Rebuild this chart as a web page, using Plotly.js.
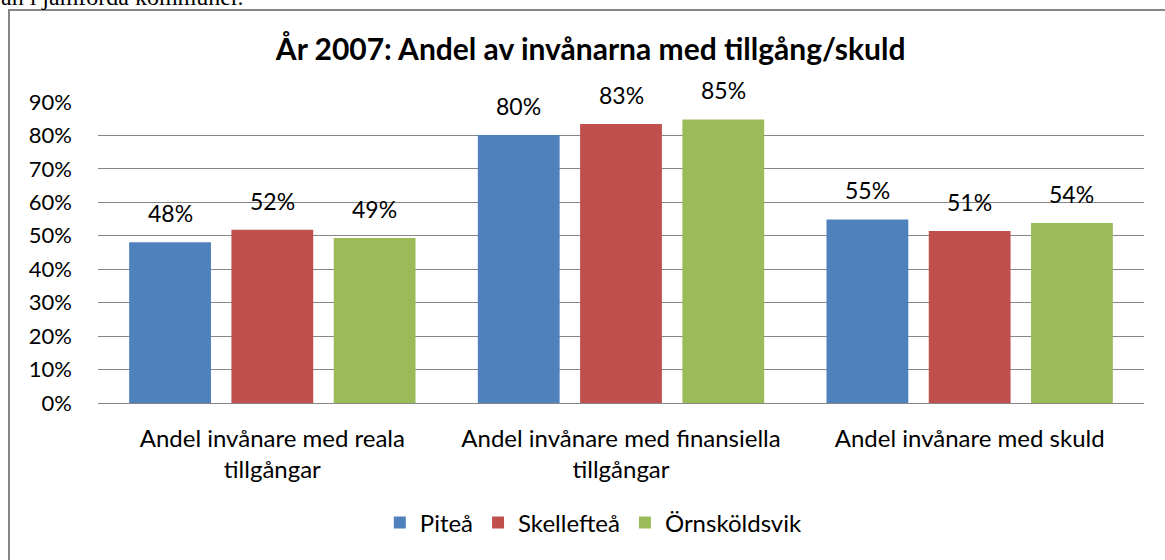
<!DOCTYPE html>
<html>
<head>
<meta charset="utf-8">
<script src="https://cdn.plot.ly/plotly-3.0.1.min.js"></script>
<style>html,body{margin:0;padding:0;background:#fff;}#chart{width:1165px;height:560px;}</style>
</head>
<body>
<div id="chart"></div>
<script>
const categories = [
  "Andel invånare med reala<br>tillgångar",
  "Andel invånare med finansiella<br>tillgångar",
  "Andel invånare med skuld"
];
const seriesNames = ["Piteå", "Skellefteå", "Örnsköldsvik"];
const pitea = [0.481, 0.801, 0.549];
const skelleftea = [0.518, 0.834, 0.514];
const ornskoldsvik = [0.493, 0.848, 0.538];
const colors = ["#4F81BD", "#C0504D", "#9BBB59"];
const yTickVals = [0, 0.1, 0.2, 0.3, 0.4, 0.5, 0.6, 0.7, 0.8, 0.9];
const yTickText = ["0%", "10%", "20%", "30%", "40%", "50%", "60%", "70%", "80%", "90%"];

const FONT = "Lato, Carlito, Calibri, sans-serif";
const BARGAP = 0.12, BARGROUPGAP = 0.2;
const allSeries = [pitea, skelleftea, ornskoldsvik];
const traces = allSeries.map((vals, i) => ({
  type: "bar",
  name: seriesNames[i],
  x: categories,
  y: vals,
  marker: {color: colors[i]},
  hoverinfo: "skip"
}));

// value labels placed above each bar, at the bar's own data position
const slot = (1 - BARGAP) / allSeries.length;
const labelAnnotations = [];
allSeries.forEach((vals, j) => {
  vals.forEach((v, i) => {
    labelAnnotations.push({
      xref: "x", yref: "y",
      x: i + (j - (allSeries.length - 1) / 2) * slot,
      y: v,
      yanchor: "bottom", xanchor: "center",
      yshift: 13,
      text: Math.round(v * 100) + "%",
      showarrow: false,
      font: {family: FONT, size: 23, color: "#000"}
    });
  });
});

const W = 1165, H = 560;
const L = 98, R = 21, T = 102, B = 157;
const pw = W - L - R, ph = H - T - B;
const px = v => (v - L) / pw;
const py = v => (H - B - v) / ph;

const layout = {
  width: W, height: H,
  margin: {l: L, r: R, t: T, b: B, pad: 0},
  paper_bgcolor: "#fff",
  plot_bgcolor: "#fff",
  font: {family: FONT, size: 20, color: "#000"},
  title: {
    text: "<b>År 2007: Andel av invånarna med tillgång/skuld</b>",
    font: {family: FONT, size: 30, color: "#000"},
    x: 0.507, xanchor: "center",
    y: 1 - 49 / H, yanchor: "middle"
  },
  barmode: "group",
  bargap: BARGAP,
  bargroupgap: BARGROUPGAP,
  showlegend: true,
  legend: {
    orientation: "h",
    x: 0.474, xanchor: "center",
    y: py(523), yanchor: "middle",
    font: {family: FONT, size: 24, color: "#000"},
    itemwidth: 30
  },
  xaxis: {
    type: "category",
    showline: true, linecolor: "#868686", linewidth: 1,
    ticks: "", showgrid: false,
    tickfont: {family: FONT, size: 24, color: "#000"},
    ticklabelstandoff: 14
  },
  yaxis: {
    range: [0, 0.9],
    tickvals: yTickVals, ticktext: yTickText,
    showgrid: true, gridcolor: "#868686", gridwidth: 1,
    zeroline: false, showline: false,
    ticks: "",
    tickfont: {family: FONT, size: 22, color: "#000"},
    ticklabelstandoff: 25
  },
  shapes: [{
    type: "rect", xref: "paper", yref: "paper",
    x0: px(9), x1: px(1200), y0: py(600), y1: py(10),
    line: {color: "#868686", width: 2},
    fillcolor: "rgba(0,0,0,0)", layer: "below"
  }],
  annotations: [{
    text: "an i jämförda kommuner.",
    xref: "paper", yref: "paper",
    x: px(-1), xanchor: "left",
    y: py(12), yanchor: "bottom",
    showarrow: false,
    font: {family: "Liberation Serif, serif", size: 24, color: "#000"}
  }].concat(labelAnnotations)
};

Plotly.newPlot("chart", traces, layout, {displayModeBar: false, staticPlot: true});
</script>
</body>
</html>
